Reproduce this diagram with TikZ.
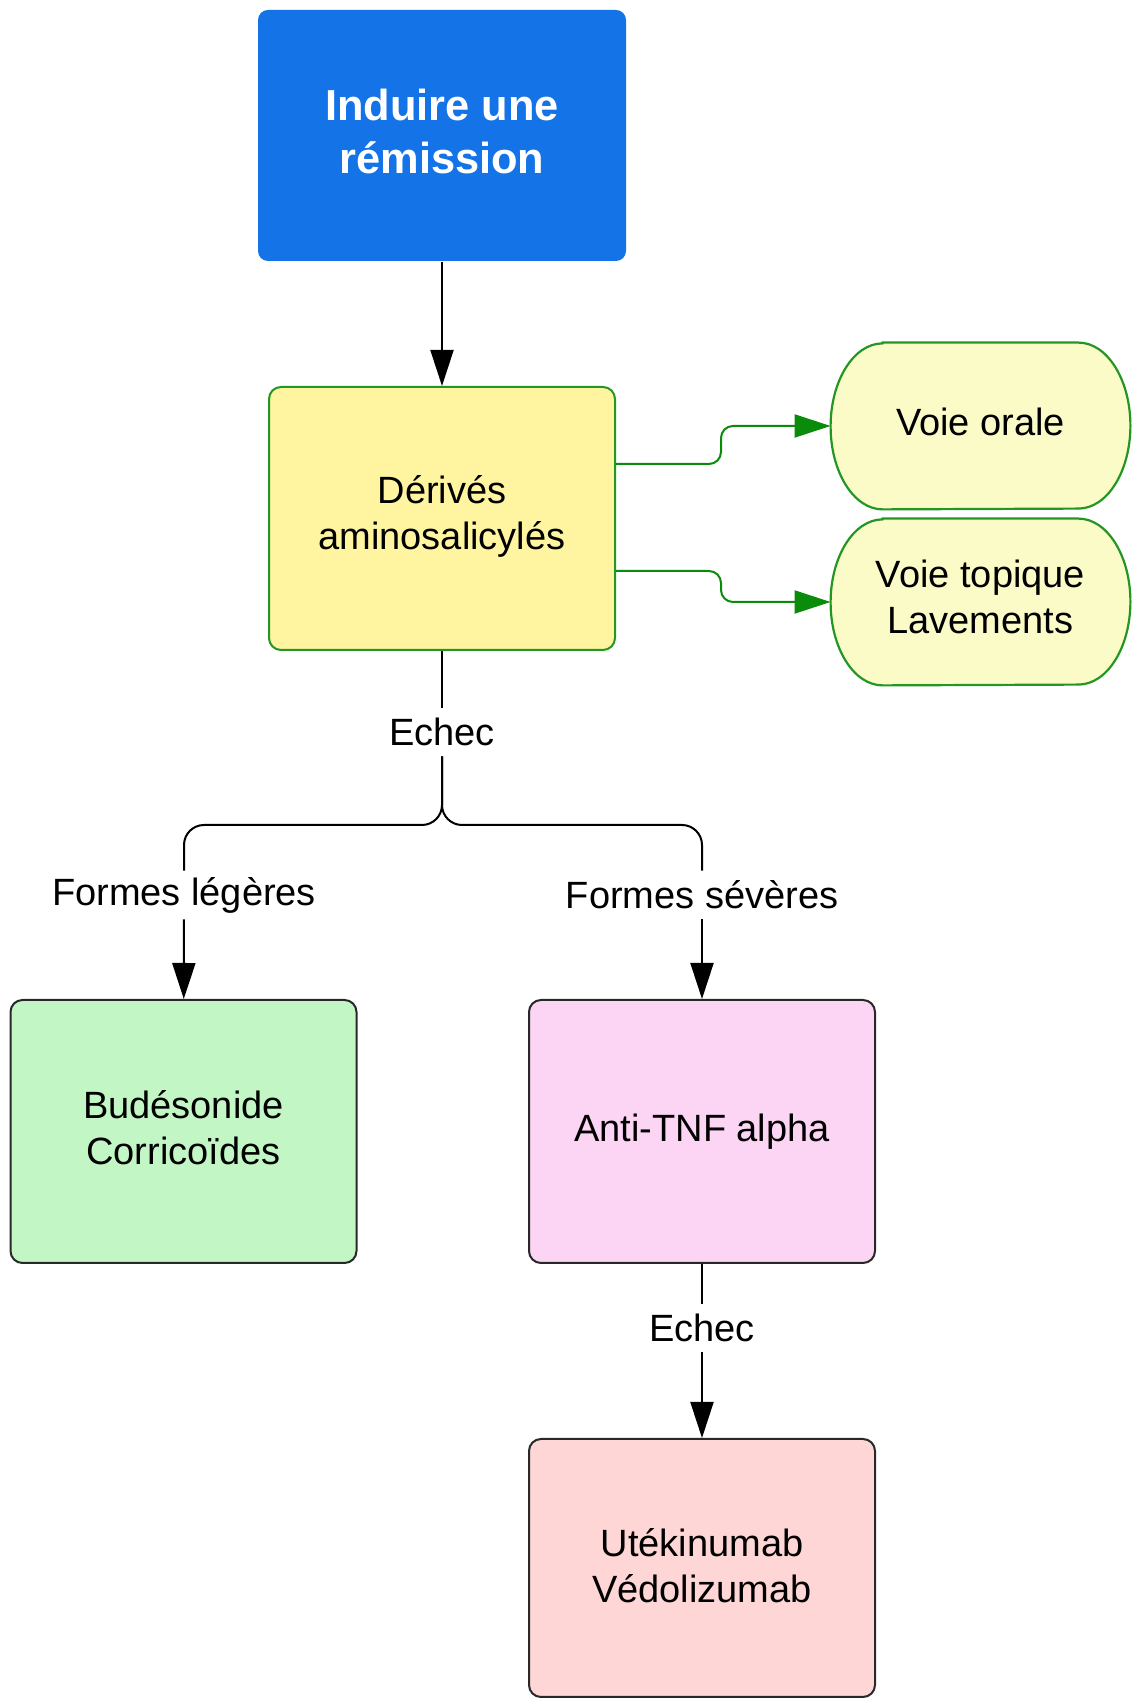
\documentclass[tikz,border=0pt]{standalone}
\usepackage{fontspec}
\setmainfont{Liberation Sans}
\usetikzlibrary{arrows.meta,backgrounds}

\definecolor{topblue}{RGB}{20,115,230}
\definecolor{derivfill}{RGB}{255,245,160}
\definecolor{palefill}{RGB}{251,251,200}
\definecolor{bordergreen}{RGB}{35,150,35}
\definecolor{arrowgreen}{RGB}{10,140,10}
\definecolor{greenfill}{RGB}{194,246,197}
\definecolor{pinkfill}{RGB}{252,213,245}
\definecolor{redfill}{RGB}{255,214,214}
\definecolor{boxline}{RGB}{40,40,40}

\tikzset{
	box/.style={rectangle, rounded corners=6pt, line width=1pt, align=center, text depth=4pt,
		minimum width=173pt, minimum height=131.5pt, font=\fontsize{19}{23}\selectfont},
	stadium/.style={rectangle, align=center, text depth=4.2pt, minimum width=149.5pt, minimum height=83pt,
		font=\fontsize{19}{23}\selectfont},
	lbl/.style={fill=white, inner xsep=2pt, inner ysep=0pt, minimum height=24pt,
		font=\fontsize{19}{23}\selectfont},
	arr/.style={line width=1pt, -{Triangle[length=18pt,width=11.5pt]}},
	greenarr/.style={arr, draw=arrowgreen, rounded corners=6pt},
}

\def\stadiumshape#1{\draw[line width=1.1pt, draw=bordergreen, fill=palefill]
	([xshift=26pt]#1.north west) -- ([xshift=-26pt]#1.north east)
	arc[start angle=90, end angle=-90, x radius=26pt, y radius=41.5pt]
	-- ([xshift=26pt]#1.south west)
	arc[start angle=270, end angle=90, x radius=26pt, y radius=41.5pt] -- cycle;}

\begin{document}
\begin{tikzpicture}[x=0.5pt, y=0.5pt]
			%%%%% START %%%%%
			\useasboundingbox (0, 0) rectangle (1131, 1698);
			
			\node[box, fill=topblue, text=white, rounded corners=5pt, minimum width=184pt, minimum height=125.5pt,
				text depth=4.4pt, font=\fontsize{21.7}{26.5}\selectfont\bfseries] (goal) at (442, 1562.5) {Induire une\\rémission};
			\node[box, draw=bordergreen, fill=derivfill, text depth=6pt] (deriv) at (442, 1179.5) {Dérivés\\aminosalicylés};
			
			\node[stadium] (oral) at (980.5, 1272) {Voie orale};
			\node[stadium, text depth=4.8pt] (topique) at (980.5, 1096) {Voie topique\\Lavements};
			
			\node[lbl] (echecA) at (442, 966) {Echec};
			\coordinate (split) at (442, 873);
			\node[lbl] (legere) at (184, 803) {Formes légères};
			\node[lbl] (severe) at (702, 803) {Formes sévères};
			
			\node[box, draw=boxline, fill=greenfill] (budeso) at (183.5, 566.5) {Budésonide\\Corricoïdes};
			\node[box, draw=boxline, fill=pinkfill] (antitnf) at (702, 566.5) {Anti-TNF alpha};
			
			\node[lbl] (echecB) at (702, 370) {Echec};
			\node[box, draw=boxline, fill=redfill, minimum height=129pt, text depth=2.8pt] (uteki) at (702, 130) {Utékinumab\\Védolizumab};
			
			\begin{scope}[on background layer]
				\stadiumshape{oral}
				\stadiumshape{topique}
			\end{scope}
			
			% connectors
			\draw[arr] (goal) -- (deriv);
			\draw[greenarr] ([yshift=27.25pt]deriv.east) -- ++(105, 0) |- (oral.west);
			\draw[greenarr] ([yshift=-26.25pt]deriv.east) -- ++(105, 0) |- (topique.west);
			
			\draw[line width=1pt] (deriv) -- (echecA);
			\draw[line width=1pt, rounded corners=10pt] (echecA.south) -- (split) -| (legere.north);
			\draw[line width=1pt, rounded corners=10pt] (echecA.south) -- (split) -| (severe.north);
			\draw[arr] (legere) -- (budeso);
			\draw[arr] (severe) -- (antitnf);
			
			\draw[line width=1pt] (antitnf) -- (echecB);
			\draw[arr] (echecB) -- (uteki);
			%%%%% END %%%%%
\end{tikzpicture}
\end{document}
